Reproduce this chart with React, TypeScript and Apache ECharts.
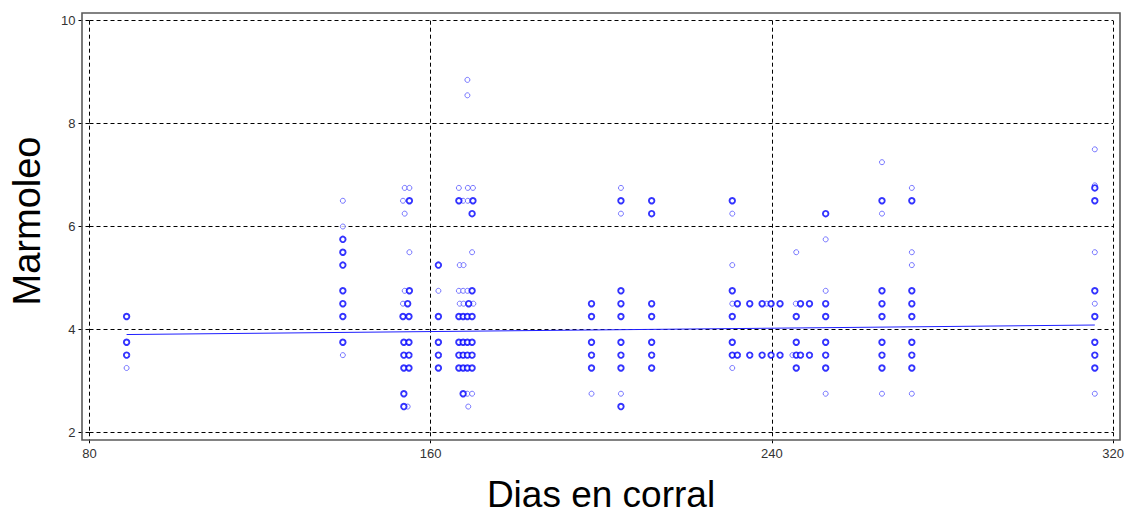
import React, { useEffect, useRef } from "react";
import * as echarts from "echarts";

// x: Dias en corral, y: Marmoleo
const xTicks = [80, 160, 240, 320];
const yTicks = [2, 4, 6, 8, 10];

// observations drawn once (faint)
const singleObs: [number, number][] = [
  [88.7, 3.25],
  [139.4, 6.5], [139.4, 6.0], [139.4, 3.5],
  [153.9, 6.75], [155.0, 6.75], [153.5, 6.5], [153.9, 6.25], [155.0, 5.5], [153.9, 4.75], [153.5, 4.5], [154.6, 2.5],
  [161.8, 4.75],
  [168.6, 8.85], [168.6, 8.55],
  [166.6, 6.75], [168.7, 6.75], [169.9, 6.75],
  [167.6, 6.5], [168.7, 6.5], [169.7, 5.5], [166.8, 5.25], [167.7, 5.25],
  [166.6, 4.75], [167.6, 4.75], [168.6, 4.75],
  [166.8, 4.5], [167.7, 4.5], [170.0, 4.5],
  [168.6, 2.75], [169.7, 2.75], [168.8, 2.5],
  [197.7, 2.75],
  [204.6, 6.75], [204.6, 6.25], [204.6, 2.75],
  [230.7, 6.25], [230.7, 5.25], [230.7, 4.5], [230.7, 3.25],
  [238.8, 4.5], [245.6, 4.5], [244.8, 3.5],
  [245.7, 5.5],
  [252.6, 5.75], [252.6, 4.75], [252.6, 2.75],
  [265.8, 7.25], [265.8, 6.25], [265.8, 2.75],
  [272.8, 6.75], [272.8, 5.5], [272.8, 5.25], [272.8, 2.75],
  [315.7, 7.5], [315.7, 6.8], [315.7, 5.5], [315.7, 4.5], [315.7, 2.75],
];

// observations drawn several times (bold)
const repeatedObs: [number, number][] = [
  [88.7, 4.25], [88.7, 3.75], [88.7, 3.5],
  [139.4, 5.75], [139.4, 5.5], [139.4, 5.25], [139.4, 4.75], [139.4, 4.5], [139.4, 4.25], [139.4, 3.75],
  [155.0, 6.5], [155.0, 4.75], [154.6, 4.5], [153.5, 4.25], [154.9, 4.25],
  [153.7, 3.75], [154.9, 3.75], [153.7, 3.5], [154.9, 3.5], [153.7, 3.25], [154.9, 3.25],
  [153.7, 2.75], [153.7, 2.5],
  [161.8, 5.25], [161.8, 4.25], [161.8, 3.75], [161.8, 3.5], [161.8, 3.25],
  [166.6, 6.5], [169.9, 6.5], [169.7, 6.25], [169.7, 4.75], [168.9, 4.5],
  [166.6, 4.25], [167.6, 4.25], [168.6, 4.25], [169.7, 4.25],
  [166.6, 3.75], [167.6, 3.75], [168.6, 3.75], [169.7, 3.75],
  [166.6, 3.5], [167.6, 3.5], [168.6, 3.5], [169.7, 3.5],
  [166.6, 3.25], [167.6, 3.25], [168.6, 3.25], [169.7, 3.25],
  [167.6, 2.75],
  [197.7, 4.5], [197.7, 4.25], [197.7, 3.75], [197.7, 3.5], [197.7, 3.25],
  [204.6, 6.5], [204.6, 4.75], [204.6, 4.5], [204.6, 4.25], [204.6, 3.75], [204.6, 3.5], [204.6, 3.25], [204.6, 2.5],
  [211.8, 6.5], [211.8, 6.25], [211.8, 4.5], [211.8, 4.25], [211.8, 3.75], [211.8, 3.5], [211.8, 3.25],
  [230.7, 6.5], [230.7, 4.75], [231.9, 4.5], [230.7, 4.25], [230.7, 3.75], [230.7, 3.5], [231.9, 3.5],
  [234.8, 4.5], [237.7, 4.5], [239.8, 4.5], [241.9, 4.5], [246.7, 4.5], [248.8, 4.5], [252.6, 4.5],
  [234.8, 3.5], [237.7, 3.5], [239.8, 3.5], [241.9, 3.5], [245.7, 3.5], [246.7, 3.5], [248.8, 3.5], [252.6, 3.5],
  [245.7, 4.25], [245.7, 3.75], [245.7, 3.25],
  [252.6, 6.25], [252.6, 4.25], [252.6, 3.75], [252.6, 3.25],
  [265.8, 6.5], [265.8, 4.75], [265.8, 4.5], [265.8, 4.25], [265.8, 3.75], [265.8, 3.5], [265.8, 3.25],
  [272.8, 6.5], [272.8, 4.75], [272.8, 4.5], [272.8, 4.25], [272.8, 3.75], [272.8, 3.5], [272.8, 3.25],
  [315.7, 6.75], [315.7, 6.5], [315.7, 4.75], [315.7, 4.25], [315.7, 3.75], [315.7, 3.5], [315.7, 3.25],
];

// fitted line endpoints
const fitLine: [number, number][] = [
  [88.7, 3.9],
  [315.7, 4.085],
];

const FONT = "'Liberation Sans', Arial, sans-serif";

export default function App() {
  const ref = useRef<HTMLDivElement>(null);
  useEffect(() => {
    if (!ref.current) return;
    const chart = echarts.init(ref.current, undefined, { renderer: "svg" });
    const gridDash = { color: "#000", width: 1, type: [4, 3] as number[] };
    chart.setOption({
      animation: false,
      backgroundColor: "#fff",
      grid: { left: 89.5, right: 13.7, top: 20.7, bottom: 83.7, containLabel: false },
      xAxis: {
        type: "value",
        min: xTicks[0],
        max: xTicks[xTicks.length - 1],
        interval: 80,
        axisLine: { show: false },
        axisTick: { show: true, inside: false, length: 11, lineStyle: gridDash },
        splitLine: { show: true, lineStyle: gridDash },
        axisLabel: { color: "#333", fontSize: 13, fontFamily: FONT, margin: 15 },
      },
      yAxis: {
        type: "value",
        min: yTicks[0],
        max: yTicks[yTicks.length - 1],
        interval: 2,
        axisLine: { show: false },
        axisTick: { show: true, inside: false, length: 12, lineStyle: gridDash },
        splitLine: { show: true, lineStyle: gridDash },
        axisLabel: { color: "#333", fontSize: 13, fontFamily: FONT, margin: 14 },
      },
      graphic: [
        {
          type: "rect",
          shape: { x: 82, y: 13, width: 1038, height: 427 },
          style: { fill: "none", stroke: "#5a5a5a", lineWidth: 1.6 },
          z: 10,
        },
        {
          type: "text",
          x: 601,
          y: 494,
          style: {
            text: "Dias en corral",
            fontSize: 37,
            fontFamily: FONT,
            fill: "#000",
            textAlign: "center",
            textVerticalAlign: "middle",
          },
        },
        {
          type: "text",
          x: 27,
          y: 221,
          rotation: Math.PI / 2,
          style: {
            text: "Marmoleo",
            fontSize: 38,
            fontFamily: FONT,
            fill: "#000",
            textAlign: "center",
            textVerticalAlign: "middle",
          },
        },
      ],
      series: [
        {
          type: "line",
          data: fitLine,
          symbol: "none",
          lineStyle: { color: "#1f1fff", width: 1 },
          z: 3,
        },
        {
          type: "scatter",
          data: singleObs,
          symbol: "circle",
          symbolSize: 5,
          itemStyle: { color: "#fff", borderColor: "#5555ff", borderWidth: 1 },
          z: 4,
        },
        {
          type: "scatter",
          data: repeatedObs,
          symbol: "circle",
          symbolSize: 5.5,
          itemStyle: { color: "#fff", borderColor: "#0000ff", borderWidth: 1.9 },
          z: 5,
        },
      ],
    });
    return () => chart.dispose();
  }, []);
  return (
    <div
      ref={ref}
      style={{ position: "fixed", left: 0, top: 0, width: 1127, height: 516 }}
    />
  );
}
